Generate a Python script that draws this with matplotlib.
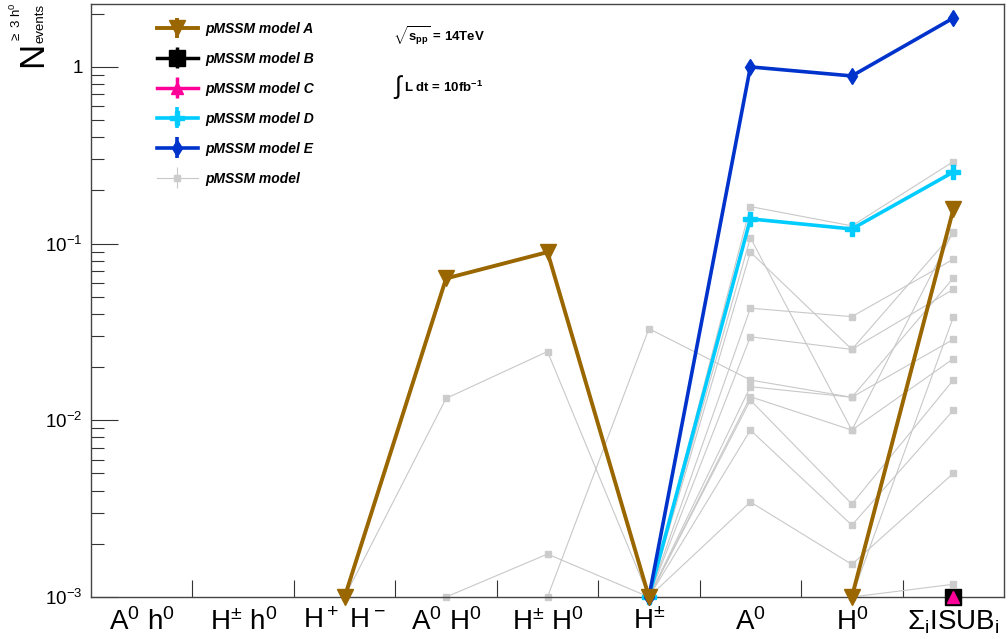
import numpy as np
import matplotlib
matplotlib.use("Agg")
import matplotlib.pyplot as plt
from matplotlib.ticker import LogLocator, NullFormatter
from matplotlib.collections import LineCollection
from matplotlib.container import ErrorbarContainer
from matplotlib.legend_handler import HandlerErrorbar

plt.rcParams["font.family"] = ["Liberation Sans", "DejaVu Sans"]
plt.rcParams["mathtext.fontset"] = "custom"
plt.rcParams["mathtext.rm"] = "Liberation Sans"
plt.rcParams["mathtext.it"] = "Liberation Sans:italic"
plt.rcParams["mathtext.bf"] = "Liberation Sans:bold"
plt.rcParams["mathtext.default"] = "regular"

nan = np.nan

# categories (production channels)
bins = [r"A$^0$ h$^0$", r"H$^{\pm}$ h$^0$", r"H$^+$ H$^-$", r"A$^0$ H$^0$",
        r"H$^{\pm}$ H$^0$", r"H$^{\pm}$", r"A$^0$", r"H$^0$",
        r"$\Sigma_i$ISUB$_i$"]

# N events with >= 3 h0 (nan = no entry)
model_a = [nan, nan, 1e-3, 0.0635, 0.0895, 1e-3, nan, 1e-3, 0.156]
model_b = [nan, nan, nan, nan, nan, nan, nan, nan, 1e-3]
model_c = [nan, nan, nan, nan, nan, nan, nan, nan, 1e-3]
model_d = [nan, nan, nan, nan, nan, 1e-3, 0.138, 0.121, 0.254]
model_e = [nan, nan, nan, nan, nan, 1e-3, 1.0, 0.889, 1.89]

grey_models = [
    [nan, nan, 1e-3, 0.0133, 0.0245, 1e-3, nan, 1e-3, 0.0383],
    [nan, nan, nan, 1e-3, 0.00175, 1e-3, nan, 1e-3, 0.00118],
    [nan, nan, nan, nan, 1e-3, 0.033, 0.0169, 0.0135, 0.0637],
    [nan, nan, nan, nan, nan, 1e-3, 0.162, 0.126, 0.291],
    [nan, nan, nan, nan, nan, 1e-3, 0.108, 0.0088, 0.117],
    [nan, nan, nan, nan, nan, 1e-3, 0.0895, 0.0252, 0.115],
    [nan, nan, nan, nan, nan, 1e-3, 0.0431, 0.0386, 0.0815],
    [nan, nan, nan, nan, nan, 1e-3, 0.0297, 0.0252, 0.0551],
    [nan, nan, nan, nan, nan, 1e-3, 0.0155, 0.0135, 0.0287],
    [nan, nan, nan, nan, nan, 1e-3, 0.0136, 0.0088, 0.0223],
    [nan, nan, nan, nan, nan, 1e-3, 0.0130, 0.00336, 0.0169],
    [nan, nan, nan, nan, nan, 1e-3, 0.0088, 0.00255, 0.0114],
    [nan, nan, nan, nan, nan, 1e-3, 0.00345, 0.00153, 0.00501],
]

ytick_vals = [1e-3, 1e-2, 1e-1, 1]
ytick_labels = [r"$10^{-3}$", r"$10^{-2}$", r"$10^{-1}$", "1"]

fig = plt.figure(figsize=(10.08, 6.39), dpi=100)
ax = fig.add_axes([91 / 1008, 42 / 639, 913 / 1008, 593 / 639])

x = np.arange(len(bins)) + 0.5

# grey pMSSM scan models
grey_line = None
for vals in grey_models:
    grey_line, = ax.plot(x, vals, color="#c8c8c8", lw=0.8, marker="s", ms=5,
                         mfc="#cccccc", mec="#cccccc", zorder=2, clip_on=False)

line_b, = ax.plot(x, model_b, color="black", lw=2.5, marker="s", ms=11,
                  zorder=3, clip_on=False)
line_c, = ax.plot(x, model_c, color="#ff0099", lw=2.5, marker="^", ms=9,
                  zorder=4, clip_on=False)
line_d, = ax.plot(x, model_d, color="#00ccff", lw=2.6, marker="P", ms=10,
                  zorder=5, clip_on=False)
line_e, = ax.plot(x, model_e, color="#0033cc", lw=2.6, marker="d", ms=8,
                  zorder=6, clip_on=False)
line_a, = ax.plot(x, model_a, color="#996600", lw=2.8, marker="v", ms=11,
                  zorder=7, clip_on=False)

ax.set_yscale("log")
ax.set_ylim(1e-3, 2.27)
ax.set_xlim(0, len(bins))

ax.set_yticks(ytick_vals, ytick_labels)
ax.yaxis.set_minor_locator(LogLocator(subs=range(2, 10)))
ax.yaxis.set_minor_formatter(NullFormatter())
ax.tick_params(axis="y", which="major", direction="in", length=19.5,
               width=0.8, labelsize=13.5, pad=6, colors="#333333",
               labelcolor="black")
ax.tick_params(axis="y", which="minor", direction="in", length=9.5,
               width=0.8, colors="#333333")

ax.set_xticks(x, bins)
ax.set_xticks(np.arange(1, len(bins)), minor=True)
ax.tick_params(axis="x", which="major", length=0, labelsize=20, pad=8)
ax.tick_params(axis="x", which="minor", direction="in", length=12,
               width=0.8, colors="#333333")

for s in ax.spines.values():
    s.set_color("#444444")
    s.set_linewidth(1)

# legend with ROOT-like vertical bars
entries = [(line_a, "pMSSM model A", 2.8), (line_b, "pMSSM model B", 2.5),
           (line_c, "pMSSM model C", 2.5), (line_d, "pMSSM model D", 2.6),
           (line_e, "pMSSM model E", 2.6), (grey_line, "pMSSM model", 0.8)]
handles = []
labels = []
for ln, lab, lw in entries:
    bar = LineCollection([], colors=[ln.get_color()], linewidths=lw)
    handles.append(ErrorbarContainer((ln, (), (bar,)), has_xerr=False,
                                     has_yerr=True))
    labels.append(lab)
ax.legend(handles, labels, loc="upper left",
          bbox_to_anchor=(0.0723, 0.970), frameon=False, borderpad=0,
          borderaxespad=0, handlelength=2.95, handletextpad=0.5,
          labelspacing=1.15, numpoints=1,
          handler_map={ErrorbarContainer: HandlerErrorbar(yerr_size=0.75)},
          prop={"family": "Liberation Sans", "weight": "bold",
                "style": "italic", "size": 10})

# y axis title, ROOT style
fig.text(33 / 1008, 1 - 54 / 639, "N", rotation=90, fontsize=25,
         ha="center", va="center")
fig.text(40 / 1008, 1 - 23 / 639, "events", rotation=90, fontsize=9.5,
         ha="center", va="center")
fig.text(16 / 1008, 1 - 23 / 639, r"$\geq$ 3 h$^0$", rotation=90,
         fontsize=9.5, ha="center", va="center")

# running conditions
fig.text(393 / 1008, 1 - 42 / 639, r"$\sqrt{\mathbf{s_{pp}}}$ = 14TeV",
         fontsize=9.5, fontweight="bold", ha="left", va="baseline")
fig.text(393 / 1008, 1 - 87 / 639, r"$\int$", fontsize=18,
         ha="left", va="center")
fig.text(404 / 1008, 1 - 92 / 639, r"L dt = 10fb$^{\mathbf{-1}}$",
         fontsize=9.5, fontweight="bold", ha="left", va="baseline")

fig.savefig("out.png", dpi=100)
